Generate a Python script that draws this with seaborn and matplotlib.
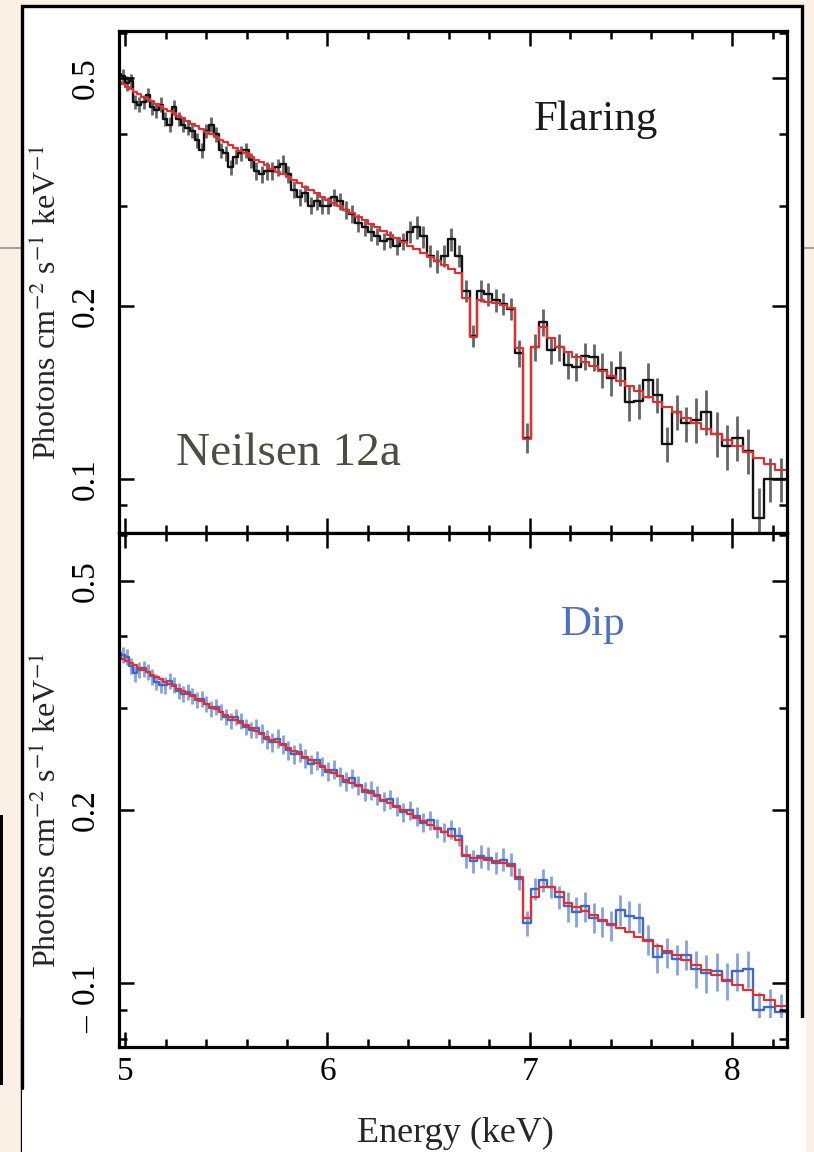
import numpy as np
import pandas as pd
import matplotlib
matplotlib.use("Agg")
import matplotlib.pyplot as plt
import seaborn as sns
from matplotlib.patches import Rectangle
from matplotlib.lines import Line2D
from matplotlib.ticker import FixedLocator, NullFormatter, FixedFormatter

# ---------------- data ----------------
# constant-wavelength bins (0.01 Angstrom), 2.50 -> 1.50 Angstrom
lam_edges = np.round(np.arange(2.50, 1.4999, -0.01), 3)
E_edges = 12.398 / lam_edges
E_mid = 0.5 * (E_edges[:-1] + E_edges[1:])

flare_model = [0.492, 0.488, 0.483, 0.479, 0.474, 0.470, 0.465, 0.461, 0.457, 0.452,
               0.448, 0.443, 0.439, 0.435, 0.430, 0.426, 0.421, 0.417, 0.413, 0.408,
               0.404, 0.400, 0.395, 0.391, 0.387, 0.382, 0.378, 0.374, 0.370, 0.365,
               0.361, 0.357, 0.353, 0.348, 0.344, 0.340, 0.336, 0.332, 0.328, 0.323,
               0.319, 0.315, 0.311, 0.307, 0.303, 0.299, 0.295, 0.291, 0.287, 0.283,
               0.279, 0.275, 0.271, 0.267, 0.263, 0.259, 0.2555, 0.2516, 0.2478, 0.244,
               0.240, 0.2364, 0.2327, 0.229, 0.207, 0.177, 0.205, 0.204, 0.203, 0.201,
               0.199, 0.169, 0.1175, 0.170, 0.184, 0.176, 0.170, 0.1665, 0.1633, 0.1602,
               0.1572, 0.1541, 0.1511, 0.1482, 0.1452, 0.1422, 0.1393, 0.1365, 0.1336, 0.1308,
               0.1280, 0.1251, 0.1224, 0.1196, 0.1169, 0.1143, 0.1116, 0.1090, 0.1064, 0.1038]

flare_counts = [0.51, 0.505, 0.49, 0.495, 0.455, 0.45, 0.455, 0.468, 0.445, 0.44,
                0.45, 0.425, 0.415, 0.445, 0.425, 0.415, 0.41, 0.405, 0.39, 0.375,
                0.405, 0.415, 0.40, 0.375, 0.37, 0.35, 0.365, 0.37, 0.375, 0.36,
                0.345, 0.34, 0.345, 0.345, 0.35, 0.355, 0.34, 0.32, 0.31, 0.315,
                0.30, 0.305, 0.30, 0.30, 0.31, 0.305, 0.295, 0.29, 0.28, 0.275,
                0.27, 0.265, 0.26, 0.262, 0.255, 0.26, 0.27, 0.275, 0.265, 0.245,
                0.24, 0.245, 0.262, 0.245, 0.213, 0.178, 0.213, 0.21, 0.205, 0.202,
                0.198, 0.166, 0.118, 0.17, 0.188, 0.168, 0.17, 0.158, 0.157, 0.164,
                0.163, 0.155, 0.15, 0.156, 0.136, 0.137, 0.149, 0.14, 0.115, 0.131,
                0.125, 0.127, 0.131, 0.12, 0.114, 0.118, 0.112, 0.0855, 0.100, 0.100]

flare_relerr = [0.03, 0.03, 0.03, 0.03, 0.03, 0.03, 0.03, 0.03, 0.03, 0.03,
                0.03, 0.03, 0.03, 0.03, 0.03, 0.03, 0.03, 0.03, 0.03, 0.03,
                0.03, 0.03, 0.03, 0.03, 0.03, 0.03, 0.03, 0.03, 0.03, 0.03,
                0.035, 0.035, 0.035, 0.035, 0.035, 0.035, 0.035, 0.035, 0.035, 0.035,
                0.035, 0.035, 0.035, 0.035, 0.035, 0.035, 0.035, 0.035, 0.035, 0.035,
                0.035, 0.035, 0.035, 0.035, 0.035, 0.035, 0.045, 0.045, 0.045, 0.045,
                0.045, 0.045, 0.045, 0.045, 0.045, 0.045, 0.045, 0.045, 0.045, 0.045,
                0.045, 0.055, 0.06, 0.055, 0.055, 0.055, 0.055, 0.055, 0.055, 0.055,
                0.055, 0.07, 0.07, 0.07, 0.07, 0.07, 0.07, 0.07, 0.07, 0.07,
                0.07, 0.09, 0.09, 0.09, 0.09, 0.09, 0.09, 0.13, 0.09, 0.09]

dip_model = [0.369, 0.366, 0.3628, 0.3594, 0.3563, 0.3530, 0.3498, 0.3466, 0.3434, 0.3403,
             0.3371, 0.3340, 0.3308, 0.3276, 0.3243, 0.3212, 0.3180, 0.3148, 0.3116, 0.3085,
             0.3054, 0.3022, 0.2990, 0.2959, 0.2928, 0.2896, 0.2866, 0.2835, 0.2804, 0.2772,
             0.2742, 0.2711, 0.2681, 0.2649, 0.2619, 0.2588, 0.2559, 0.2528, 0.2497, 0.2467,
             0.2437, 0.2408, 0.2377, 0.2347, 0.2317, 0.2287, 0.2258, 0.2229, 0.2199, 0.2169,
             0.2140, 0.2112, 0.2083, 0.2054, 0.2025, 0.1996, 0.1968, 0.1939, 0.1911, 0.1883,
             0.1854, 0.1827, 0.1799, 0.1771, 0.167, 0.165, 0.165, 0.164, 0.163, 0.162,
             0.160, 0.153, 0.130, 0.141, 0.147, 0.147, 0.144, 0.1380, 0.1357, 0.1335,
             0.1313, 0.1290, 0.1268, 0.1247, 0.1225, 0.1203, 0.1182, 0.1161, 0.1139, 0.1118,
             0.1097, 0.1076, 0.1055, 0.1035, 0.1014, 0.0994, 0.0974, 0.0954, 0.0934, 0.0914]

dip_counts = [0.375, 0.372, 0.368, 0.355, 0.345, 0.35, 0.352, 0.347, 0.341, 0.333,
              0.33, 0.329, 0.335, 0.33, 0.322, 0.318, 0.32, 0.316, 0.31, 0.312,
              0.305, 0.30, 0.302, 0.296, 0.29, 0.286, 0.29, 0.285, 0.279, 0.275,
              0.277, 0.272, 0.265, 0.262, 0.266, 0.26, 0.254, 0.25, 0.252, 0.246,
              0.24, 0.244, 0.238, 0.233, 0.235, 0.229, 0.224, 0.227, 0.221, 0.215,
              0.216, 0.212, 0.207, 0.209, 0.203, 0.198, 0.20, 0.195, 0.19, 0.192,
              0.186, 0.183, 0.185, 0.18, 0.166, 0.163, 0.166, 0.165, 0.162, 0.164,
              0.161, 0.152, 0.127, 0.146, 0.151, 0.147, 0.141, 0.136, 0.133, 0.136,
              0.13, 0.128, 0.126, 0.134, 0.131, 0.13, 0.119, 0.111, 0.113, 0.11,
              0.112, 0.106, 0.104, 0.105, 0.101, 0.105, 0.106, 0.09, 0.091, 0.089]

dip_relerr = [0.032, 0.032, 0.032, 0.032, 0.032, 0.032, 0.032, 0.032, 0.032, 0.032,
              0.032, 0.032, 0.032, 0.032, 0.032, 0.032, 0.032, 0.032, 0.032, 0.032,
              0.032, 0.032, 0.032, 0.032, 0.032, 0.032, 0.032, 0.032, 0.032, 0.032,
              0.038, 0.038, 0.038, 0.038, 0.038, 0.038, 0.038, 0.038, 0.038, 0.038,
              0.038, 0.038, 0.038, 0.038, 0.038, 0.038, 0.038, 0.038, 0.038, 0.038,
              0.038, 0.038, 0.038, 0.038, 0.038, 0.038, 0.038, 0.038, 0.038, 0.038,
              0.038, 0.038, 0.038, 0.038, 0.045, 0.045, 0.045, 0.045, 0.045, 0.045,
              0.045, 0.045, 0.05, 0.045, 0.045, 0.045, 0.045, 0.06, 0.06, 0.06,
              0.06, 0.06, 0.06, 0.06, 0.06, 0.06, 0.06, 0.06, 0.06, 0.06,
              0.06, 0.075, 0.075, 0.075, 0.075, 0.075, 0.075, 0.075, 0.075, 0.075]

x_major = [5, 6, 7, 8]
x_minor = [5.2, 5.4, 5.6, 5.8, 6.2, 6.4, 6.6, 6.8, 7.2, 7.4, 7.6, 7.8, 8.2]
y_major = [0.1, 0.2, 0.5]
y_major_labels = ["0.1", "0.2", "0.5"]
y_minor = [0.08, 0.09, 0.3, 0.4, 0.6]

# ---------------- style ----------------
sns.set_theme(style="ticks")
plt.rcParams["font.family"] = ["Liberation Serif", "DejaVu Serif"]
plt.rcParams["mathtext.fontset"] = "stix"

W, H = 814, 1152
fig = plt.figure(figsize=(W / 100, H / 100), dpi=100)
BEIGE = "#FAF0E6"
fig.patch.set_facecolor(BEIGE)

def fx(x):
    return x / W

def fy(y):
    return 1 - y / H

# slide decorations
fig.add_artist(Line2D([0, 1], [fy(248), fy(248)], transform=fig.transFigure,
                      color="#a89f98", lw=1.5, zorder=-3))
fig.add_artist(Rectangle((fx(22), fy(1152)), fx(802) - fx(22), fy(6) - fy(1152),
                         transform=fig.transFigure, facecolor="white",
                         edgecolor="black", lw=2.4, zorder=-2))
fig.add_artist(Rectangle((fx(22), 0), fx(806) - fx(22), fy(1018),
                         transform=fig.transFigure, facecolor="white",
                         edgecolor="none", zorder=-1.5))
fig.add_artist(Line2D([fx(22), fx(22)], [fy(1088), fy(1018)], transform=fig.transFigure,
                      color="black", lw=2.4, zorder=-1))
fig.add_artist(Rectangle((0, fy(1085)), fx(3), fy(815) - fy(1085),
                         transform=fig.transFigure, facecolor="black",
                         edgecolor="none", zorder=-1))

ax1 = fig.add_axes([fx(119), fy(533), fx(787) - fx(119), fy(31) - fy(533)])
ax2 = fig.add_axes([fx(119), fy(1047), fx(787) - fx(119), fy(533) - fy(1047)])

RED = "#f02828"

def panel(ax, counts, relerr, model, dcol, ecol, ylim):
    ax.set_facecolor("white")
    ax.set_yscale("log")
    c = np.asarray(counts)
    err = c * np.asarray(relerr)
    ax.vlines(E_mid, c - err, c + err, color=ecol, lw=2.0, zorder=1.8)
    df = pd.DataFrame({"E": E_edges,
                       "data": np.append(c, c[-1]),
                       "model": np.append(model, model[-1])})
    sns.lineplot(data=df, x="E", y="data", drawstyle="steps-post", color=dcol,
                 lw=1.7, ax=ax, estimator=None, sort=False, zorder=2)
    sns.lineplot(data=df, x="E", y="model", drawstyle="steps-post", color=RED,
                 lw=1.5, ax=ax, estimator=None, sort=False, zorder=2.1)
    ax.set_xlim(4.97, 8.27)
    ax.set_ylim(*ylim)
    ax.set_xlabel("")
    ax.set_ylabel("")
    ax.xaxis.set_major_locator(FixedLocator(x_major))
    ax.xaxis.set_minor_locator(FixedLocator(x_minor))
    ax.yaxis.set_major_locator(FixedLocator(y_major))
    ax.yaxis.set_major_formatter(FixedFormatter(y_major_labels))
    ax.yaxis.set_minor_locator(FixedLocator(y_minor))
    ax.yaxis.set_minor_formatter(NullFormatter())
    ax.tick_params(which="both", direction="in", top=True, right=True,
                   width=1.8, colors="black", labelsize=24)
    ax.tick_params(which="major", length=11)
    ax.tick_params(which="minor", length=6)
    ax.tick_params(axis="y", pad=13)
    ax.tick_params(axis="x", pad=7)
    for lab in ax.get_yticklabels():
        lab.set_rotation(90)
        lab.set_va("center")
    for s in ax.spines.values():
        s.set_linewidth(2.3)
        s.set_color("black")
        s.set_visible(True)
    ax.set_axisbelow(False)

panel(ax1, flare_counts, flare_relerr, flare_model, "#111111", "#666666", (0.0805, 0.605))
panel(ax2, dip_counts, dip_relerr, dip_model, "#3f68c6", "#86a2e2", (0.0775, 0.605))
ax1.tick_params(axis="x", labelbottom=False)

# pasted-over strip at the bottom of the lower panel
ax2.add_patch(Rectangle((0, 0), 1, (1047 - 1018) / 514, transform=ax2.transAxes,
                        facecolor="white", edgecolor="none", zorder=2.3))

ylab = r"Photons cm$^{-2}$ s$^{-1}$ keV$^{-1}$"
fig.text(fx(47), fy(302), ylab, rotation=90, ha="center", va="center", fontsize=23)
fig.text(fx(47), fy(810), ylab, rotation=90, ha="center", va="center", fontsize=23)
fig.text(fx(455), fy(1133), "Energy (keV)", ha="center", va="center", fontsize=26)
fig.text(fx(596), fy(120), "Flaring", ha="center", va="center", fontsize=31, color="#1a1a1a")
fig.text(fx(593), fy(625), "Dip", ha="center", va="center", fontsize=31, color="#4a6fc8")
fig.text(fx(176), fy(465), "Neilsen 12a", ha="left", va="baseline", fontsize=34, color="#4d4d40")
fig.text(fx(88), fy(1025), "\u2013", rotation=90, ha="center", va="center", fontsize=24, color="black")

fig.savefig("out.png", dpi=100, facecolor=fig.get_facecolor())
